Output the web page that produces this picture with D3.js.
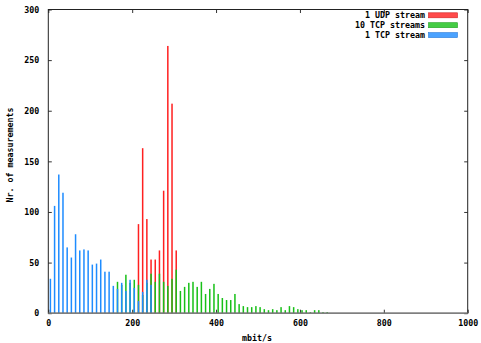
<!DOCTYPE html>
<html>
<head>
<meta charset="utf-8">
<script src="https://cdn.jsdelivr.net/npm/d3@7"></script>
<style>
  html, body { margin: 0; padding: 0; background: #fff; }
  svg { display: block; }
  text { font-family: "DejaVu Sans Mono", monospace; font-weight: bold; font-size: 8.3px; fill: #000; }
</style>
</head>
<body>
<svg id="chart" width="481" height="343"></svg>
<script>
// Histogram bins of 10 mbit/s, identified by their centre
const binCenters = d3.range(5, 670, 10);

// Number of measurements per bin for each setup
const oneUdpStream = [
  0,0,0,0,0,0,0,0,0,0, 0,0,0,0,0,0,0,0,0,0,
  0,88,163,93,53,53,62,121,264,207, 62,0,0,0,0,0,0,0,0,0,
  0,0,0,0,0,0,0,0,0,0, 0,0,0,0,0,0,0,0,0,0,
  0,0,0,0,0,0,0
];
const tenTcpStreams = [
  0,0,0,0,0,0,0,0,0,0, 0,0,0,0,0,0,31,28,38,30,
  33,28,18,30,39,31,39,31,27,34, 43,22,26,30,31,26,31,19,24,29,
  19,15,13,13,19,9,7,6,6,7, 6,4,3,4,3,6,3,7,6,4,
  3,3,1,3,3,1,1
];
const oneTcpStream = [
  34,106,137,119,65,55,78,62,63,62, 48,49,53,41,41,27,24,30,22,33,
  25,12,21,33,28,0,0,0,0,0, 0,0,0,0,0,0,0,0,0,0,
  0,0,0,0,0,0,0,0,0,0, 0,0,0,0,0,0,0,0,0,0,
  0,0,0,0,0,0,0
];

const seriesNames = ["1 UDP stream", "10 TCP streams", "1 TCP stream"];
const xTicks = [0, 200, 400, 600, 800, 1000];
const yTicks = [0, 50, 100, 150, 200, 250, 300];

const series = [
  { name: seriesNames[0], values: oneUdpStream, color: "#ff2020", swatch: "#ff4a4a", edge: "#d02020" },
  { name: seriesNames[1], values: tenTcpStreams, color: "#18c018", swatch: "#44cc44", edge: "#20a020" },
  { name: seriesNames[2], values: oneTcpStream, color: "#1e8cff", swatch: "#4aa2ff", edge: "#2a7ad8" }
];

const svg = d3.select("#chart");
const plotLeft = 48.3, plotRight = 467.7, plotTop = 9.5, plotBottom = 313.2;

const x = d3.scaleLinear().domain([0, 1000]).range([plotLeft, plotRight]);
const y = d3.scaleLinear().domain([0, 300]).range([plotBottom, plotTop]);

// Bars: drawn in legend order so later series sit on top
const barW = 1.5;
series.forEach(s => {
  svg.append("g").selectAll("rect")
    .data(binCenters.map((c, i) => ({ c, v: s.values[i] })).filter(d => d.v > 0))
    .join("rect")
    .attr("x", d => x(d.c) - barW / 2)
    .attr("width", barW)
    .attr("y", d => y(d.v))
    .attr("height", d => y(0) - y(d.v))
    .attr("fill", s.color);
});

// Axes with inward ticks, mirrored on the opposite sides
const tick = 3.5;
const gl = svg.append("g").attr("transform", `translate(${plotLeft},0)`)
  .call(d3.axisLeft(y).tickValues(yTicks).tickSize(-tick).tickPadding(9).tickFormat(d3.format("d")));
const gr = svg.append("g").attr("transform", `translate(${plotRight},0)`)
  .call(d3.axisRight(y).tickValues(yTicks).tickSize(-tick).tickFormat(""));
const gb = svg.append("g").attr("transform", `translate(0,${plotBottom})`)
  .call(d3.axisBottom(x).tickValues(xTicks).tickSize(-tick).tickPadding(7).tickFormat(d3.format("d")));
const gt = svg.append("g").attr("transform", `translate(0,${plotTop})`)
  .call(d3.axisTop(x).tickValues(xTicks).tickSize(-tick).tickFormat(""));

[gl, gr, gb, gt].forEach(g => {
  g.select(".domain").remove();
  g.selectAll(".tick line").attr("stroke", "#333");
  g.selectAll("text").attr("font-family", null).attr("font-size", null).attr("fill", "#000");
});

// Plot frame
svg.append("rect")
  .attr("x", plotLeft).attr("y", plotTop)
  .attr("width", plotRight - plotLeft).attr("height", plotBottom - plotTop)
  .attr("fill", "none").attr("stroke", "#222").attr("stroke-width", 1);
svg.append("line")
  .attr("x1", plotLeft).attr("x2", plotRight).attr("y1", plotBottom).attr("y2", plotBottom)
  .attr("stroke", "#888").attr("stroke-width", 1.3);

// Axis titles
svg.append("text").attr("x", 257).attr("y", 340.5).attr("text-anchor", "middle").text("mbit/s");
svg.append("text").attr("transform", "translate(13,155) rotate(-90)")
  .attr("text-anchor", "middle").text("Nr. of measurements");

// Legend
const legend = svg.append("g");
series.forEach((s, i) => {
  const cy = 15.3 + i * 9.9;
  legend.append("text").attr("x", 425).attr("y", cy + 3).attr("text-anchor", "end").text(s.name);
  legend.append("rect").attr("x", 428.5).attr("y", cy - 2.5).attr("width", 29).attr("height", 5)
    .attr("fill", s.swatch).attr("stroke", s.edge).attr("stroke-width", 0.6);
});
</script>
</body>
</html>
